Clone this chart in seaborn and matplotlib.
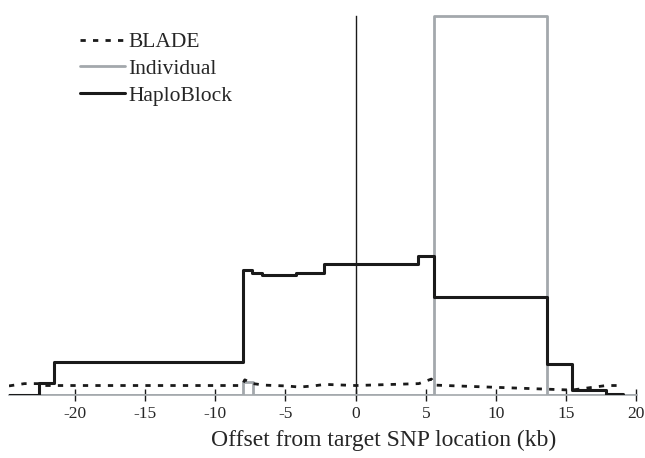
import matplotlib
matplotlib.use("Agg")
import matplotlib.pyplot as plt
import seaborn as sns
import pandas as pd

# ---- data ----
haplo_x = [-24.7, -22.56, -21.5, -8.0, -7.36, -6.64, -4.26, -2.22, 4.47, 5.62, 13.66, 15.4, 17.85, 19.05]
haplo_y = [0.0, 0.032, 0.088, 0.330, 0.322, 0.317, 0.322, 0.346, 0.367, 0.259, 0.082, 0.013, 0.003, 0.003]

indiv_x = [-24.7, -8.03, -7.28, 5.59, 13.66, 20.0]
indiv_y = [0.0, 0.035, 0.0, 1.0, 0.0, 0.0]

blade_x = [-24.7, -23.6, -22.6, -22.5, -8.1, -7.9, -7.3, -6.5, -5.0, -4.0, -3.0, -2.2, 0.0, 4.5, 5.4, 5.7, 15.4, 17.85, 19.05]
blade_y = [0.024, 0.030, 0.030, 0.025, 0.025, 0.040, 0.030, 0.026, 0.024, 0.021, 0.024, 0.028, 0.025, 0.030, 0.042, 0.026, 0.013, 0.025, 0.025]

x_ticks = [-20, -15, -10, -5, 0, 5, 10, 15, 20]
x_label = "Offset from target SNP location (kb)"

sns.set_style("white")
plt.rcParams['font.family'] = ['Liberation Serif', 'DejaVu Serif']

fig = plt.figure(figsize=(6.45, 4.58), dpi=100)
ax = fig.add_axes([9 / 645, (458 - 395) / 458, (637 - 9) / 645, 395 / 458])

df_b = pd.DataFrame({"x": blade_x, "y": blade_y})
df_i = pd.DataFrame({"x": indiv_x, "y": indiv_y})
df_h = pd.DataFrame({"x": haplo_x, "y": haplo_y})

sns.lineplot(data=df_i, x="x", y="y", ax=ax, estimator=None, sort=False,
             drawstyle="steps-post", color="#a3a8ac", lw=2.0, label="Individual", zorder=3)
sns.lineplot(data=df_h, x="x", y="y", ax=ax, estimator=None, sort=False,
             drawstyle="steps-post", color="#1a1a1a", lw=2.2, label="HaploBlock", zorder=4)
sns.lineplot(data=df_b, x="x", y="y", ax=ax, estimator=None, sort=False,
             color="#1a1a1a", lw=2.0, linestyle=(0, (1.9, 2.6)), label="BLADE", zorder=5)

ax.set_xlim(-24.7, 20.05)
ax.set_ylim(0, 1.042)

ax.spines['top'].set_visible(False)
ax.spines['right'].set_visible(False)
ax.spines['left'].set_position(('data', 0))
ax.spines['left'].set_bounds(0, 1.0)
ax.spines['left'].set_color('#1a1a1a')
ax.spines['left'].set_linewidth(1.0)
ax.spines['left'].set_zorder(2)
ax.spines['bottom'].set_color('#a3a8ac')
ax.spines['bottom'].set_linewidth(1.2)

ax.set_yticks([])
ax.set_ylabel("")
ax.set_xticks(x_ticks)
ax.set_xticklabels([str(t) for t in x_ticks])
ax.tick_params(axis='x', direction='inout', length=9, width=1.0, color='#1a1a1a',
               labelsize=12.5, pad=3.5, bottom=True)
ax.set_xlabel(x_label, fontsize=17)
ax.xaxis.set_label_coords((383.5 - 9) / 628, -(440 - 395) / 395, transform=ax.transAxes)
ax.xaxis.label.set_va('center')

h, l = ax.get_legend_handles_labels()
order = [l.index("BLADE"), l.index("Individual"), l.index("HaploBlock")]
ax.legend([h[i] for i in order], [l[i] for i in order], loc='upper left',
          bbox_to_anchor=(80 / 645, 1 - 32 / 458), bbox_transform=fig.transFigure,
          frameon=False, fontsize=15.5, handlelength=2.1, handletextpad=0.15,
          labelspacing=0.32, borderpad=0, borderaxespad=0)

fig.savefig("out.png", dpi=100)
